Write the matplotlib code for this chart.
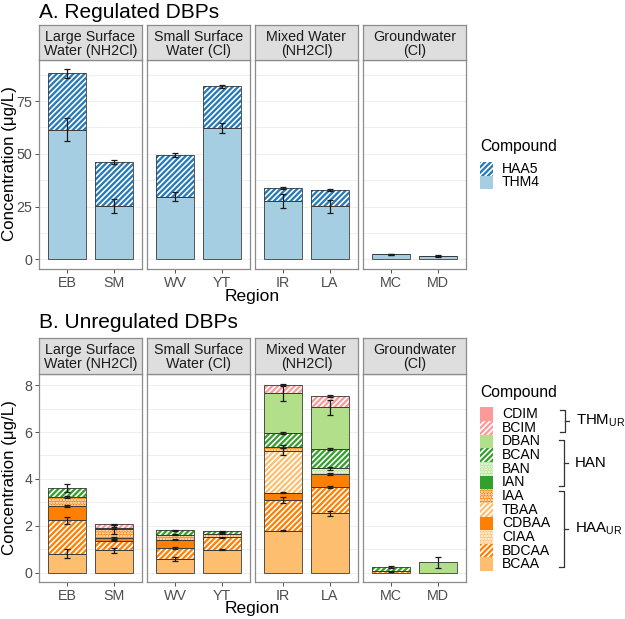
import matplotlib
matplotlib.use('Agg')
import matplotlib.pyplot as plt
from matplotlib.patches import Rectangle
import numpy as np

plt.rcParams['font.family'] = ['Liberation Sans', 'DejaVu Sans']
plt.rcParams['mathtext.fontset'] = 'custom'
plt.rcParams['mathtext.rm'] = 'Liberation Sans'
plt.rcParams['mathtext.it'] = 'Liberation Sans'
plt.rcParams['hatch.linewidth'] = 1.2

# ---------------- data ----------------
facets = ["Large Surface\nWater (NH2Cl)", "Small Surface\nWater (Cl)",
          "Mixed Water\n(NH2Cl)", "Groundwater\n(Cl)"]
regions = ["EB", "SM", "WV", "YT", "IR", "LA", "MC", "MD"]

# Panel A (ug/L)
THM4 = [61.4, 25.3, 29.7, 62.1, 27.5, 25.1, 2.3, 1.5]
HAA5 = [26.8, 20.7, 19.7, 19.9, 6.3, 7.8, 0.1, 0.1]
THM4_sd = [5.5, 3.2, 2.0, 2.4, 3.4, 3.2, 0.2, 0.1]
HAA5_sd = [2.0, 1.0, 1.0, 0.8, 0.4, 0.3, 0.3, 0.3]

# Panel B (ug/L), order EB SM WV YT IR LA MC MD
BCAA = [0.80, 0.95, 0.57, 0.98, 1.79, 2.53, 0.00, 0.00]
BDCAA = [1.43, 0.41, 0.48, 0.52, 1.30, 1.12, 0.05, 0.00]
CIAA = [0.00, 0.00, 0.00, 0.00, 0.00, 0.00, 0.00, 0.00]
CDBAA = [0.62, 0.12, 0.35, 0.00, 0.32, 0.56, 0.00, 0.00]
TBAA = [0.00, 0.00, 0.00, 0.00, 1.76, 0.00, 0.00, 0.00]
IAA = [0.38, 0.36, 0.22, 0.16, 0.21, 0.00, 0.00, 0.00]
IAN = [0.00, 0.00, 0.00, 0.00, 0.00, 0.00, 0.00, 0.00]
BAN = [0.00, 0.00, 0.00, 0.00, 0.00, 0.24, 0.00, 0.00]
BCAN = [0.39, 0.06, 0.18, 0.10, 0.59, 0.82, 0.19, 0.00]
DBAN = [0.00, 0.00, 0.00, 0.00, 1.71, 1.80, 0.00, 0.44]
BCIM = [0.00, 0.16, 0.00, 0.00, 0.33, 0.47, 0.00, 0.00]
CDIM = [0.00, 0.00, 0.00, 0.00, 0.00, 0.00, 0.00, 0.00]

BCAA_sd = [0.20, 0.10, 0.08, 0.02, 0.03, 0.10, 0.00, 0.00]
BDCAA_sd = [0.15, 0.03, 0.05, 0.03, 0.12, 0.05, 0.02, 0.00]
CIAA_sd = [0, 0, 0, 0, 0, 0, 0, 0]
CDBAA_sd = [0.03, 0.03, 0.03, 0.00, 0.03, 0.05, 0.00, 0.00]
TBAA_sd = [0.00, 0.00, 0.00, 0.00, 0.17, 0.00, 0.00, 0.00]
IAA_sd = [0.03, 0.19, 0.03, 0.02, 0.05, 0.00, 0.00, 0.00]
IAN_sd = [0, 0, 0, 0, 0, 0, 0, 0]
BAN_sd = [0.00, 0.00, 0.00, 0.00, 0.00, 0.05, 0.00, 0.00]
BCAN_sd = [0.17, 0.03, 0.03, 0.02, 0.05, 0.05, 0.03, 0.00]
DBAN_sd = [0.00, 0.00, 0.00, 0.00, 0.34, 0.32, 0.00, 0.23]
BCIM_sd = [0.00, 0.03, 0.00, 0.00, 0.05, 0.05, 0.00, 0.00]
CDIM_sd = [0, 0, 0, 0, 0, 0, 0, 0]

compA = ["THM4", "HAA5"]
valsA = {"THM4": THM4, "HAA5": HAA5}
sdsA = {"THM4": THM4_sd, "HAA5": HAA5_sd}

compB = ["BCAA", "BDCAA", "CIAA", "CDBAA", "TBAA", "IAA", "IAN", "BAN",
         "BCAN", "DBAN", "BCIM", "CDIM"]
valsB = {"BCAA": BCAA, "BDCAA": BDCAA, "CIAA": CIAA, "CDBAA": CDBAA, "TBAA": TBAA,
         "IAA": IAA, "IAN": IAN, "BAN": BAN, "BCAN": BCAN, "DBAN": DBAN,
         "BCIM": BCIM, "CDIM": CDIM}
sdsB = {"BCAA": BCAA_sd, "BDCAA": BDCAA_sd, "CIAA": CIAA_sd, "CDBAA": CDBAA_sd,
        "TBAA": TBAA_sd, "IAA": IAA_sd, "IAN": IAN_sd, "BAN": BAN_sd,
        "BCAN": BCAN_sd, "DBAN": DBAN_sd, "BCIM": BCIM_sd, "CDIM": CDIM_sd}

# ---------------- styles ----------------
STRIPE = "//////"
DOTS = "......"
stylesA = {"THM4": ("#A6CEE3", None), "HAA5": ("#2479B8", STRIPE)}
stylesB = {
    "CDIM": ("#FB9A99", None), "BCIM": ("#FB9A99", STRIPE),
    "DBAN": ("#B2DF8A", None), "BCAN": ("#33A02C", STRIPE),
    "BAN": ("#B2DF8A", DOTS), "IAN": ("#33A02C", None),
    "IAA": ("#FF7F00", DOTS), "TBAA": ("#FDBF6F", STRIPE),
    "CDBAA": ("#FF7F00", None), "CIAA": ("#FDBF6F", DOTS),
    "BDCAA": ("#FF7F00", STRIPE), "BCAA": ("#FDBF6F", None),
}

W, H = 625, 619
fig = plt.figure(figsize=(W / 100, H / 100), dpi=100)


def rect(x0, y0, x1, y1):
    return [x0 / W, 1 - y1 / H, (x1 - x0) / W, (y1 - y0) / H]


lefts = [39, 147, 255, 363]
PW = 103
GRAY_TXT = "#4D4D4D"
BORDER = "#8C8C8C"


def draw_panel(strip_top, ax_top, ax_bot, ylim, majors, minors, comps, vals, sds, styles):
    for p in range(4):
        x0 = lefts[p]
        ax = fig.add_axes(rect(x0, ax_top, x0 + PW, ax_bot))
        xs = np.array([1.0, 2.0])
        idx = [2 * p, 2 * p + 1]
        bottoms = np.zeros(2)
        errs = []
        for c in comps:
            v = np.array([vals[c][i] for i in idx], dtype=float)
            s = np.array([sds[c][i] for i in idx], dtype=float)
            fill, hatch = styles[c]
            m = v > 0
            if m.any():
                ax.bar(xs[m], v[m], width=0.8, bottom=bottoms[m], color=fill,
                       linewidth=0, zorder=2)
                if hatch:
                    ax.bar(xs[m], v[m], width=0.8, bottom=bottoms[m], color='none',
                           edgecolor='white', hatch=hatch, linewidth=0, zorder=2.1)
                ax.bar(xs[m], v[m], width=0.8, bottom=bottoms[m], fill=False,
                       edgecolor='#3A3A3A', linewidth=0.6, zorder=2.2)
            tops = bottoms + v
            for k in range(2):
                if v[k] > 0 and s[k] > 0:
                    errs.append((xs[k], tops[k], s[k]))
            bottoms = tops
        for (x, y, s) in errs:
            ax.errorbar([x], [y], yerr=[s], fmt='none', ecolor='#1A1A1A',
                        elinewidth=0.9, capsize=2.4, capthick=0.9, zorder=5)
        ax.set_xlim(0.4, 2.6)
        ax.set_ylim(*ylim)
        ax.set_xticks(xs)
        ax.set_xticklabels([regions[i] for i in idx])
        ax.set_yticks(majors)
        ax.set_yticks(minors, minor=True)
        ax.grid(True, which='both', axis='y', color='#EDEDED', linewidth=0.6)
        ax.set_axisbelow(True)
        ax.tick_params(axis='both', which='major', length=3, width=0.6, color='#333333',
                       labelsize=10.3, labelcolor=GRAY_TXT, pad=2)
        ax.tick_params(axis='y', which='minor', length=0)
        if p > 0:
            ax.tick_params(axis='y', which='major', length=0, labelleft=False)
        else:
            ax.set_yticklabels([str(t) for t in majors])
        for sp in ax.spines.values():
            sp.set_color(BORDER)
            sp.set_linewidth(0.9)
        # strip
        sax = fig.add_axes(rect(x0, strip_top, x0 + PW, ax_top))
        sax.set_facecolor('#DEDEDE')
        sax.set_xticks([])
        sax.set_yticks([])
        for sp in sax.spines.values():
            sp.set_color(BORDER)
            sp.set_linewidth(0.9)
        sax.text(0.5, 0.47, facets[p], ha='center', va='center', fontsize=10.3,
                 color='#1A1A1A', linespacing=1.0, transform=sax.transAxes)


draw_panel(25, 60, 268.8, (-4.5, 94.5), [0, 25, 50, 75], [12.5, 37.5, 62.5, 87.5],
           compA, valsA, sdsA, stylesA)
draw_panel(338, 374, 582, (-0.404, 8.48), [0, 2, 4, 6, 8], [1, 3, 5, 7],
           compB, valsB, sdsB, stylesB)

# ---------------- overlay text / legends ----------------
ov = fig.add_axes([0, 0, 1, 1])
ov.set_xlim(0, W)
ov.set_ylim(H, 0)
ov.axis('off')

ov.text(39, 12, "A. Regulated DBPs", fontsize=15, ha='left', va='center', color='black')
ov.text(39, 322.5, "B. Unregulated DBPs", fontsize=15, ha='left', va='center', color='black')
ov.text(252.5, 296, "Region", fontsize=12.5, ha='center', va='center')
ov.text(252.5, 609, "Region", fontsize=12.5, ha='center', va='center')
ov.text(9.5, 164, "Concentration (μg/L)", fontsize=12.2, rotation=90, ha='center', va='center')
ov.text(9.5, 478, "Concentration (μg/L)", fontsize=12.2, rotation=90, ha='center', va='center')


def key(x, y, w, h, fill, hatch):
    ov.add_patch(Rectangle((x, y), w, h, facecolor=fill, edgecolor='none', linewidth=0))
    if hatch:
        ov.add_patch(Rectangle((x, y), w, h, facecolor='none', edgecolor='white',
                               hatch=hatch, linewidth=0))


# legend A
ov.text(480, 147, "Compound", fontsize=11.3, ha='left', va='center')
legA = ["HAA5", "THM4"]
for j, c in enumerate(legA):
    y0 = 162 + j * 13.6
    key(480, y0, 13, 13.6, *stylesA[c])
    ov.text(502, y0 + 6.8, c, fontsize=10.1, ha='left', va='center')

# legend B
ov.text(480, 393, "Compound", fontsize=11.3, ha='left', va='center')
legB = compB[::-1]
for j, c in enumerate(legB):
    y0 = 407.3 + j * 13.65
    key(480, y0, 13, 13.65, *stylesB[c])
    ov.text(502, y0 + 6.8, c, fontsize=10.1, ha='left', va='center')


def bracket(x0, x1, top, bot, label):
    mid = (top + bot) / 2
    ov.plot([x0, x1, x1, x0], [top, top, bot, bot], color='#333333', lw=0.9,
            solid_joinstyle='round')
    ov.plot([x1, x1 + 4], [mid, mid], color='#333333', lw=0.9)
    ov.text(x1 + 11, mid, label, fontsize=10.8, ha='left', va='center')


bracket(560, 565, 410, 432, r"THM$_\mathrm{UR}$")
bracket(559, 564, 439.5, 486, "HAN")
bracket(559, 564, 491, 567, r"HAA$_\mathrm{UR}$")

fig.savefig("out.png", dpi=100)
